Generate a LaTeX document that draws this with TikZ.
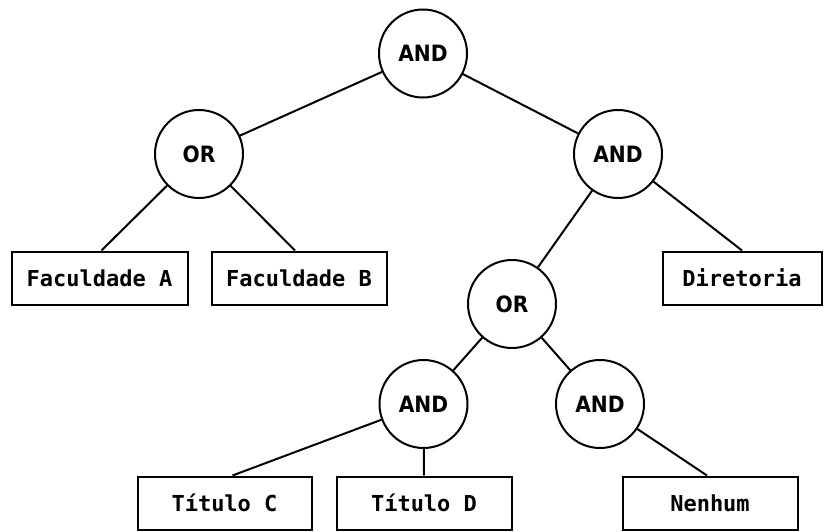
\documentclass[tikz,border=0pt]{standalone}
\usepackage{fontspec}
\newfontfamily\gatefont{DejaVu Sans Condensed}
\newfontfamily\leaffont{DejaVu Sans Mono}
\begin{document}
\begin{tikzpicture}[x=1pt,y=1pt,
  gate/.style={draw,circle,line width=2pt,minimum size=88pt,inner sep=0pt,
    font=\gatefont\bfseries\fontsize{22.5}{26}\selectfont},
  leaf/.style={draw,rectangle,line width=2pt,minimum height=53pt,inner sep=0pt,
    font=\leaffont\bfseries\fontsize{22}{26}\selectfont},
  link/.style={line width=2pt}]
\useasboundingbox (0,0) rectangle (825,-532);

% logic gates
\node[gate] (root) at (423,-53.5) {AND};
\node[gate] (orL)  at (199,-154) {OR};
\node[gate] (andR) at (618,-154) {AND};
\node[gate] (orM)  at (512,-304) {OR};
\node[gate] (andA) at (423.5,-404) {AND};
\node[gate] (andB) at (600,-404) {AND};

% leaves
\node[leaf,minimum width=176pt] (facA) at (99.5,-278) {Faculdade A};
\node[leaf,minimum width=175pt] (facB) at (299,-278) {Faculdade B};
\node[leaf,minimum width=159pt] (dir)  at (742,-278) {Diretoria};
\node[leaf,minimum width=174pt] (titC) at (224.5,-503) {Título C};
\node[leaf,minimum width=175pt] (titD) at (424,-503) {Título D};
\node[leaf,minimum width=175pt] (nen)  at (710,-503) {Nenhum};

% connections
\draw[link] (root) -- (orL);
\draw[link] (root) -- (andR);
\draw[link] (orL) -- ([xshift=2pt]facA.north);
\draw[link] (orL) -- ([xshift=-4pt]facB.north);
\draw[link] (andR) -- (orM);
\draw[link] (andR) -- (dir.north);
\draw[link] (orM) -- (andA);
\draw[link] (orM) -- (andB);
\draw[link] (andA) -- ([xshift=8pt]titC.north);
\draw[link] (andA) -- (titD.north);
\draw[link] (andB) -- ([xshift=-3pt]nen.north);
\end{tikzpicture}
\end{document}
